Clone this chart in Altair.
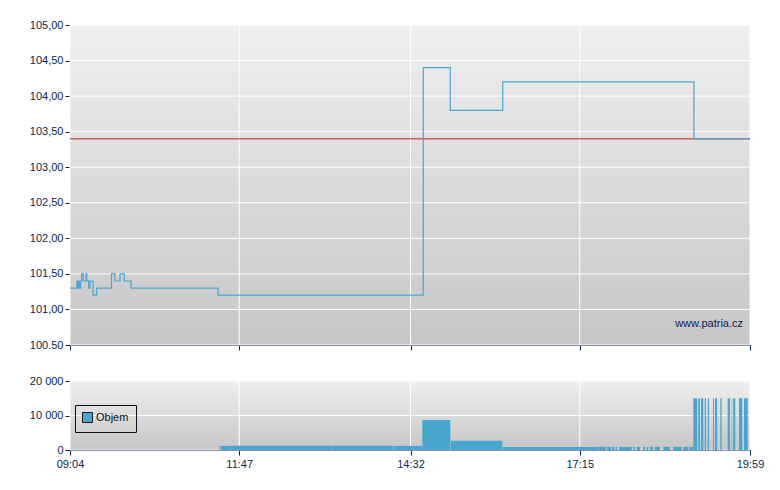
import altair as alt
import pandas as pd

# ---- data (minutes after 09:04) ----
price_min = [0, 6.7, 7.2, 7.6, 8.1, 8.5, 9.0, 9.4, 9.9, 10.3, 11.3, 12.8, 15.4, 16.1,
             18.0, 19.3, 22.2, 25.7, 40.0, 43.3, 48.2, 52.3, 58.8, 142.6, 340.3,
             366.3, 416.8, 601.0, 655]
price_val = [101.3, 101.4, 101.3, 101.4, 101.3, 101.4, 101.3, 101.4, 101.3, 101.4,
             101.5, 101.4, 101.5, 101.4, 101.3, 101.4, 101.2, 101.3, 101.5, 101.4,
             101.5, 101.4, 101.3, 101.2, 104.4, 103.8, 104.2, 103.4, 103.4]
prev_close = 103.4

vol_start = [143.6, 145.2, 155.1, 252.4, 311.6, 339.3, 366.7, 416.8,
             509.2, 517.3, 522.1, 525.6, 529.1, 542.6, 545.9, 552.2, 555.5, 558.7,
             563.5, 571.5, 581.1, 590.8, 596.5,
             600.4, 605.2, 607.8, 611.4, 614.3, 619.4, 621.3, 626.4, 633.5, 637.4,
             638.9, 644.4, 649.2]
vol_end = [144.3, 154.8, 252.1, 311.1, 339.1, 366.3, 416.4, 508.9,
           516.3, 521.1, 524.3, 526.9, 541.0, 544.2, 549.1, 553.9, 557.1, 561.9,
           568.3, 578.0, 589.2, 595.6, 600.4,
           604.2, 606.8, 610.0, 612.6, 615.5, 620.3, 623.3, 627.7, 635.7, 637.9,
           640.8, 647.6, 652.8]
vol_value = [1200, 1200, 1200, 1200, 1200, 8700, 2700, 900,
             900, 900, 900, 900, 900, 900, 900, 900, 900, 900,
             900, 900, 900, 900, 900,
             15000, 15000, 15000, 15000, 15000, 15000, 15000, 15000, 15000, 15000,
             15000, 15000, 15000]

x_ticks = [0, 163, 328, 491, 655]
y_ticks = [100.5, 101.0, 101.5, 102.0, 102.5, 103.0, 103.5, 104.0, 104.5, 105.0]
vol_ticks = [0, 10000, 20000]

NAVY = "#0B1F4E"
LINE = "#4AA6D2"
BAR = "#47A6CF"
W = 680
H_TOP = 320
H_BOT = 69

price_df = pd.DataFrame({"t": price_min, "p": price_val})
prev_df = pd.DataFrame({"p": [prev_close]})
vol_df = pd.DataFrame({"s": vol_start, "e": vol_end, "v": vol_value,
                       "z": [0] * len(vol_value), "series": ["Objem"] * len(vol_value)})
xt_df = pd.DataFrame({"t": x_ticks})
yt_df = pd.DataFrame({"p": y_ticks})
vt_df = pd.DataFrame({"v": vol_ticks})

GRAD = alt.LinearGradient(gradient="linear",
                          stops=[alt.GradientStop(color="#EFEFEF", offset=0),
                                 alt.GradientStop(color="#C6C6C6", offset=1)],
                          x1=0, x2=0, y1=0, y2=1)

x_scale = alt.Scale(domain=[0, 655], nice=False, zero=False)
time_label = ("(floor((544+datum.value)/60)<10?'0':'') + floor((544+datum.value)/60) + ':' + "
              "(((544+datum.value)%60)<10?'0':'') + ((544+datum.value)%60)")


def x_axis(labels):
    return alt.Axis(values=x_ticks, labels=labels, title=None, grid=False, tickCount=20,
                    tickColor=NAVY, domainColor=NAVY, tickSize=5,
                    labelColor=NAVY, labelFontSize=11, labelFlush=False, labelOverlap=False,
                    labelExpr=time_label, labelPadding=3)


price_y_label = "datum.value == 100.5 ? '100.50' : replace(format(datum.value, '.2f'), '.', ',')"
y_price = alt.Y("p:Q", scale=alt.Scale(domain=[100.5, 105], nice=False, zero=False),
                axis=alt.Axis(values=y_ticks, title=None, grid=False, tickCount=20,
                              tickColor=NAVY, domainColor=NAVY, tickSize=5,
                              labelColor=NAVY, labelFontSize=11, labelExpr=price_y_label,
                              labelOverlap=False, labelFlush=False, labelPadding=2))
x_top = alt.X("t:Q", scale=x_scale, axis=x_axis(False))


def background(h):
    return alt.Chart(prev_df).mark_rect(color=GRAD, strokeWidth=0).encode(
        x=alt.value(0), x2=alt.value(W), y=alt.value(0), y2=alt.value(h))


# ---- top panel ----
top_bg = background(H_TOP)
top_hgrid = alt.Chart(yt_df).mark_rule(color="white", strokeWidth=1).encode(y=y_price)
top_vgrid = alt.Chart(xt_df).mark_rule(color="white", strokeWidth=1).encode(x=x_top)
rule = alt.Chart(prev_df).mark_rule(color="#C84A4A", strokeWidth=1.5, opacity=0.85).encode(y="p:Q")
line = alt.Chart(price_df).mark_line(interpolate="step-after", color=LINE, strokeWidth=1.2).encode(
    x="t:Q", y="p:Q")
mark_txt = alt.Chart(prev_df).mark_text(text="www.patria.cz", align="right", baseline="middle",
                                        fontSize=11, color=NAVY).encode(
    x=alt.value(W - 7), y=alt.value(299))

top = alt.layer(top_bg, top_hgrid, top_vgrid, rule, line, mark_txt).properties(width=W, height=H_TOP)

# ---- bottom panel ----
y_vol = alt.Y("v:Q", scale=alt.Scale(domain=[0, 20000], nice=False),
              axis=alt.Axis(values=vol_ticks, title=None, grid=False, tickCount=20,
                            tickColor=NAVY, domainColor=NAVY, tickSize=5,
                            labelColor=NAVY, labelFontSize=11, labelPadding=2,
                            labelOverlap=False, labelFlush=False,
                            labelExpr="replace(format(datum.value, ','), ',', ' ')"))
x_bot = alt.X("t:Q", scale=x_scale, axis=x_axis(True))

bot_bg = background(H_BOT)
bot_hgrid = alt.Chart(vt_df).mark_rule(color="white", strokeWidth=1).encode(y=y_vol)
bot_vgrid = alt.Chart(xt_df).mark_rule(color="white", strokeWidth=1).encode(x=x_bot)
bars = alt.Chart(vol_df).mark_rect(strokeWidth=0).encode(
    x=alt.X("s:Q"),
    x2="e:Q",
    y=alt.Y("v:Q"),
    y2="z:Q",
    color=alt.Color("series:N", scale=alt.Scale(domain=["Objem"], range=[BAR]),
                    legend=alt.Legend(orient="none", legendX=5, legendY=24, title=None,
                                      symbolType="square", symbolSize=100,
                                      symbolStrokeColor="#1a1a1a", symbolStrokeWidth=1,
                                      strokeColor="#111111", padding=7, labelFontSize=11,
                                      labelColor="#111111", labelOffset=3)),
)
bottom = alt.layer(bot_bg, bot_hgrid, bot_vgrid, bars).properties(width=W, height=H_BOT)

chart = alt.vconcat(top, bottom, spacing=24).resolve_legend(color="independent").properties(
    padding={"left": 21, "top": 11, "right": 5, "bottom": 5}
).configure(font="Liberation Sans").configure_view(strokeWidth=0)

chart.save("out.html", embed_options={"renderer": "svg", "actions": False})
